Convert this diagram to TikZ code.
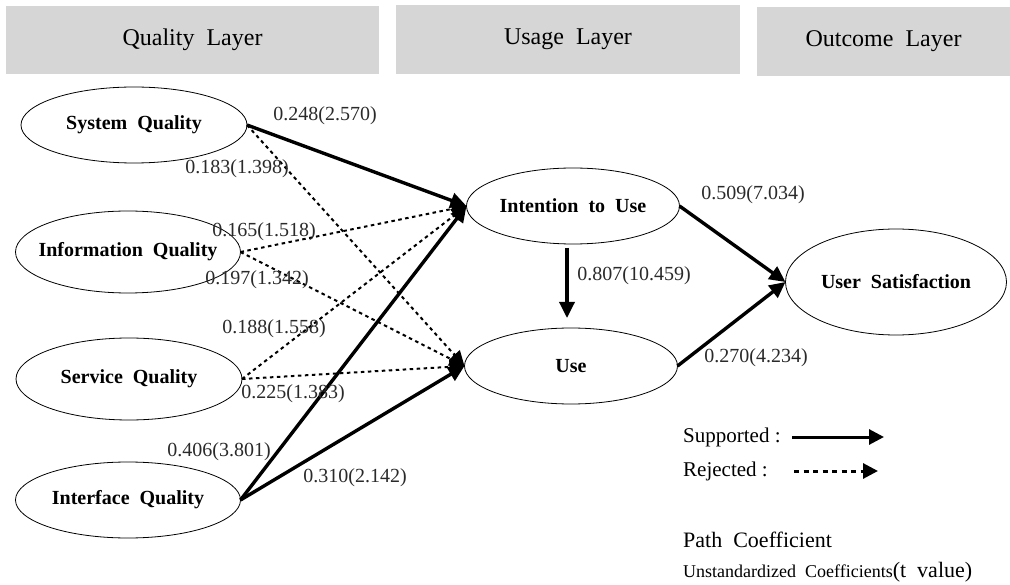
\documentclass[tikz,border=0pt]{standalone}
\usepackage{fontspec}
\setmainfont{Liberation Serif}
\usetikzlibrary{shapes.geometric,arrows.meta}
\definecolor{layergray}{HTML}{D6D6D6}
\definecolor{numgray}{HTML}{2A2A2A}
\tikzset{
  layerbox/.style={fill=layergray,draw=none,inner sep=0pt,outer sep=0pt,font=\fontsize{24}{26}\selectfont},
  constructtext/.style={font=\bfseries\fontsize{20}{22}\selectfont,inner sep=0pt},
  construct/.style={ellipse,draw=black,line width=0.8pt,inner sep=0pt,outer sep=0pt,label={[constructtext]center:#1}},
  supported/.style={line width=3.4pt,-{Triangle[length=16pt,width=15pt]}},
  rejected/.style={line width=2pt,dash pattern=on 3.5pt off 3.5pt,-{Triangle[length=15pt,width=14pt]}},
  coef/.style={font=\fontsize{20}{22}\selectfont,text=numgray,inner sep=0pt},
  legendtext/.style={font=\fontsize{21}{23}\selectfont,anchor=west,inner sep=0pt}
}
\begin{document}
\begin{tikzpicture}[x=1pt,y=-1pt]
\useasboundingbox (0,0) rectangle (1010,585);
% layer headers
\node[layerbox,minimum width=373pt,minimum height=68pt] (ql) at (192.5,40) {Quality \ Layer};
\node[layerbox,minimum width=344pt,minimum height=69pt] (ul) at (568,39.5) {Usage \ Layer};
\node[layerbox,minimum width=253pt,minimum height=69pt] (ol) at (883.5,41.5) {Outcome \ Layer};
% constructs
\node[construct={System \ Quality},minimum width=226pt,minimum height=76pt] (sys) at (134,125) {};
\node[construct={Information \ Quality},minimum width=225pt,minimum height=82pt] (inf) at (128,252) {};
\node[construct={Service \ Quality},minimum width=226pt,minimum height=82pt] (ser) at (129,379) {};
\node[construct={Interface \ Quality},minimum width=225pt,minimum height=76pt] (itf) at (128,500) {};
\node[construct={Intention \ to \ Use},minimum width=213pt,minimum height=76pt] (int) at (573,206) {};
\node[construct={Use},minimum width=213pt,minimum height=76pt] (use) at (571,366) {};
\node[construct={User \ Satisfaction},minimum width=221pt,minimum height=106pt] (usat) at (896,282) {};
% paths
\draw[rejected] (sys.east) -- (use.west);
\draw[rejected] (inf.east) -- (int.west);
\draw[rejected] (inf.east) -- (use.west);
\draw[rejected] (ser.east) -- (int.west);
\draw[rejected] (ser.east) -- (use.west);
\draw[supported] (sys.east) -- (int.west);
\draw[supported] (itf.east) -- (int.west);
\draw[supported] (itf.east) -- (use.west);
\draw[supported,shorten <=4pt,shorten >=10pt] (int.south -| 567,0) -- (use.north -| 567,0);
\draw[supported] (int.east) -- (usat.west);
\draw[supported] (use.east) -- (usat.west);
% coefficients
\node[coef] (c1) at (325,116) {0.248(2.570)};
\node[coef] (c2) at (237,169) {0.183(1.398)};
\node[coef] (c3) at (264,232) {0.165(1.518)};
\node[coef] (c4) at (257,280) {0.197(1.342)};
\node[coef] (c5) at (274,329) {0.188(1.558)};
\node[coef] (c6) at (293,394) {0.225(1.383)};
\node[coef] (c7) at (219,452) {0.406(3.801)};
\node[coef] (c8) at (355,478) {0.310(2.142)};
\node[coef] (c9) at (634,276) {0.807(10.459)};
\node[coef] (c10) at (753,195) {0.509(7.034)};
\node[coef] (c11) at (756,358) {0.270(4.234)};
% legend
\node[legendtext] (lsup) at (683,437) {Supported :};
\coordinate (sa) at (792,437);
\coordinate (sb) at (884,437);
\draw[line width=3pt,-{Triangle[length=15pt,width=15pt]}] (sa) -- (sb);
\node[legendtext] (lrej) at (683,471) {Rejected : };
\coordinate (ra) at (794,471);
\coordinate (rb) at (878,471);
\draw[line width=3pt,dash pattern=on 5pt off 4.5pt,-{Triangle[length=15pt,width=15pt]}] (ra) -- (rb);
\node[legendtext,font=\fontsize{22}{24}\selectfont] (lpath) at (683,540) {Path \ Coefficient};
\node[legendtext] (lunst) at (683,572) {\fontsize{18}{20}\selectfont Unstandardized \ Coefficients\fontsize{22}{24}\selectfont (t \ value)};
\end{tikzpicture}
\end{document}
